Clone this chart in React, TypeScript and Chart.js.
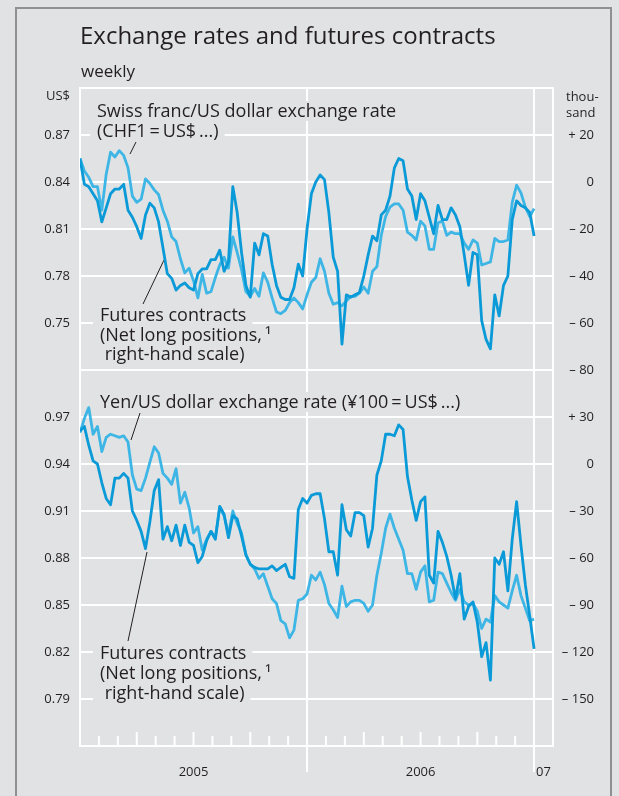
import React, { useEffect, useRef } from "react";
import { Chart, registerables } from "chart.js";

Chart.register(...registerables);

// Weekly observations, first week of Jan 2005 to first week of Jan 2007 (index = week number)
const chfRate = [
  0.855, 0.847, 0.843, 0.837, 0.837, 0.822, 0.845, 0.859, 0.856, 0.86, 0.857, 0.849, 0.831, 0.827, 0.829, 0.842,
  0.839, 0.835, 0.832, 0.822, 0.815, 0.805, 0.802, 0.791, 0.782, 0.785, 0.777, 0.766, 0.781, 0.769, 0.77, 0.779,
  0.787, 0.792, 0.785, 0.805, 0.795, 0.784, 0.77, 0.767, 0.772, 0.767, 0.782, 0.776, 0.766, 0.757, 0.756, 0.758,
  0.763, 0.766, 0.763, 0.759, 0.768, 0.776, 0.779, 0.791, 0.783, 0.769, 0.762, 0.763, 0.761, 0.764, 0.767, 0.767,
  0.769, 0.773, 0.769, 0.783, 0.786, 0.806, 0.818, 0.824, 0.826, 0.826, 0.822, 0.808, 0.806, 0.803, 0.815, 0.812,
  0.797, 0.797, 0.814, 0.815, 0.806, 0.808, 0.807, 0.807, 0.801, 0.797, 0.803, 0.801, 0.787, 0.788, 0.789, 0.804,
  0.802, 0.802, 0.803, 0.827, 0.838, 0.833, 0.824, 0.818, 0.823,
];
const chfFutures = [
  10, -1, -2, -5, -8, -17, -11, -5, -3, -3, -1, -12, -15, -19, -24, -14, -9, -11, -17, -28, -39, -41, -46, -44, -43,
  -45, -46, -39, -37, -37, -33, -33, -29, -38, -34, -2, -13, -30, -44, -49, -26, -31, -22, -23, -35, -44, -49, -50,
  -50, -45, -35, -40, -20, -5, 0, 3, 1, -13, -32, -38, -69, -48, -49, -48, -47, -40, -31, -23, -25, -14, -12, -6, 6,
  10, 9, -3, -6, -16, -5, -8, -15, -22, -10, -16, -16, -11, -14, -19, -31, -44, -30, -31, -59, -67, -71, -48, -57,
  -44, -40, -16, -8, -10, -11, -13, -23,
];
const yenRate = [
  0.96, 0.969, 0.976, 0.959, 0.964, 0.948, 0.957, 0.959, 0.958, 0.957, 0.958, 0.954, 0.933, 0.924, 0.923, 0.931,
  0.941, 0.951, 0.947, 0.934, 0.931, 0.927, 0.937, 0.915, 0.922, 0.912, 0.896, 0.9, 0.885, 0.892, 0.897, 0.893,
  0.912, 0.907, 0.895, 0.91, 0.902, 0.896, 0.882, 0.876, 0.873, 0.867, 0.87, 0.862, 0.854, 0.851, 0.84, 0.838,
  0.829, 0.834, 0.853, 0.854, 0.857, 0.869, 0.866, 0.871, 0.863, 0.851, 0.847, 0.842, 0.862, 0.849, 0.852, 0.853,
  0.853, 0.851, 0.846, 0.85, 0.869, 0.883, 0.899, 0.908, 0.899, 0.892, 0.885, 0.87, 0.87, 0.86, 0.871, 0.875,
  0.852, 0.853, 0.871, 0.87, 0.864, 0.858, 0.853, 0.86, 0.852, 0.85, 0.851, 0.846, 0.835, 0.841, 0.839, 0.856,
  0.852, 0.85, 0.848, 0.859, 0.869, 0.856, 0.848, 0.84, 0.841,
];
const yenFutures = [
  21, 24, 12, 2, 0, -12, -22, -26, -9, -9, -6, -9, -30, -36, -43, -54, -37, -17, -10, -48, -40, -49, -39, -52, -39,
  -50, -52, -63, -59, -49, -43, -48, -27, -32, -47, -33, -35, -46, -58, -64, -66, -67, -67, -67, -65, -68, -66, -64,
  -72, -73, -29, -22, -25, -20, -19, -19, -35, -56, -56, -71, -26, -42, -46, -31, -31, -33, -53, -41, -7, 2, 19, 19,
  18, 25, 22, -8, -23, -36, -24, -21, -71, -76, -43, -50, -59, -71, -86, -70, -99, -91, -88, -101, -123, -114, -138,
  -60, -64, -56, -81, -48, -24, -52, -77, -97, -118,
];

const chfRateTicks = [0.75, 0.78, 0.81, 0.84, 0.87];
const chfFutTicks = [-80, -60, -40, -20, 0, 20];
const yenRateTicks = [0.79, 0.82, 0.85, 0.88, 0.91, 0.94, 0.97];
const yenFutTicks = [-150, -120, -90, -60, -30, 0, 30];
const yearLabelWeeks = [26, 78, 106.17];
const yearLabels = ["2005", "2006", "07"];
const yearBoundaryWeeks = [52, 104];
const WEEKS_PER_MONTH = 52 / 12;

const BG = "#e1e2e4";
const TEXT = "#231f20";
const LIGHT = "#3db6e6";
const DARK = "#0a9ad7";
const FONT = "'Open Sans', 'Noto Sans', sans-serif";

const pts = (arr: number[]) => arr.map((v, i) => ({ x: i, y: v }));
const futLabel = (v: number) => (v > 0 ? "+ " + v : v < 0 ? "\u2013 " + -v : "0");

function drawBlock(ctx: CanvasRenderingContext2D, lines: string[], x: number, baseline: number, lh: number) {
  ctx.font = "18px " + FONT;
  ctx.fillStyle = BG;
  lines.forEach((t, k) => {
    const w = ctx.measureText(t).width;
    ctx.fillRect(x - 7, baseline + k * lh - 16, w + 13, lh);
  });
  ctx.fillStyle = TEXT;
  ctx.textAlign = "left";
  ctx.textBaseline = "alphabetic";
  lines.forEach((t, k) => ctx.fillText(t, x, baseline + k * lh));
}

function pointer(ctx: CanvasRenderingContext2D, x1: number, y1: number, x2: number, y2: number) {
  ctx.strokeStyle = TEXT;
  ctx.lineWidth = 1;
  ctx.beginPath();
  ctx.moveTo(x1, y1);
  ctx.lineTo(x2, y2);
  ctx.stroke();
}

const decor = {
  id: "decor",
  beforeDatasetsDraw(chart: any) {
    const { ctx, chartArea: a, scales } = chart;
    ctx.save();
    ctx.strokeStyle = "#ffffff";
    ctx.lineWidth = 2;
    ctx.strokeRect(a.left, a.top, a.right - a.left, a.bottom - a.top);
    const xs = scales.x;
    for (let m = 1; m < 25; m++) {
      if (m % 12 === 0) continue;
      const px = xs.getPixelForValue(m * WEEKS_PER_MONTH);
      const len = m % 3 === 0 ? 14 : 10;
      ctx.beginPath();
      ctx.moveTo(px, a.bottom);
      ctx.lineTo(px, a.bottom - len);
      ctx.stroke();
    }
    drawBlock(ctx, ["Swiss franc/US dollar exchange rate", "(CHF1\u2009=\u2009US$\u2009...)"], 97, 117, 20);
    pointer(ctx, 136, 142, 130, 154);
    drawBlock(ctx, ["Futures contracts", "(Net long positions,\u2009\u00b9", " right-hand scale)"], 100, 321, 19.5);
    pointer(ctx, 143, 304, 164, 260);
    drawBlock(ctx, ["Yen/US dollar exchange rate (\u00a5100\u2009=\u2009US$\u2009...)"], 100, 408, 20);
    pointer(ctx, 140, 413, 131, 440);
    drawBlock(ctx, ["Futures contracts", "(Net long positions,\u2009\u00b9", " right-hand scale)"], 100, 659, 20);
    pointer(ctx, 128, 641, 147, 552);
    ctx.restore();
  },
  afterDraw(chart: any) {
    const { ctx } = chart;
    ctx.save();
    ctx.fillStyle = TEXT;
    ctx.textBaseline = "alphabetic";
    ctx.textAlign = "left";
    ctx.font = "24px " + FONT;
    ctx.fillText("Exchange rates and futures contracts", 80, 44);
    ctx.font = "17px " + FONT;
    ctx.fillText("weekly", 81, 77);
    ctx.font = "13px " + FONT;
    ctx.textAlign = "right";
    ctx.fillText("US$", 70, 100);
    ctx.textAlign = "left";
    ctx.fillText("thou-", 566, 101);
    ctx.fillText("sand", 566, 117);
    ctx.restore();
  },
};

const tickFont = { family: FONT, size: 13 };

export default function App() {
  const ref = useRef<HTMLCanvasElement>(null);
  useEffect(() => {
    if (!ref.current) return;
    const chart = new Chart(ref.current, {
      type: "line",
      data: {
        datasets: [
          { data: pts(chfFutures), yAxisID: "yTR", borderColor: DARK, order: 1 },
          { data: pts(chfRate), yAxisID: "yTL", borderColor: LIGHT, order: 2 },
          { data: pts(yenFutures), yAxisID: "yBR", borderColor: DARK, order: 1 },
          { data: pts(yenRate), yAxisID: "yBL", borderColor: LIGHT, order: 2 },
        ],
      },
      options: {
        responsive: false,
        animation: false,
        devicePixelRatio: 1,
        layout: { padding: { left: 0, right: 25, top: 88, bottom: 0 } },
        elements: {
          line: { borderWidth: 2.8, tension: 0, fill: false, borderJoinStyle: "round" },
          point: { radius: 0 },
        },
        plugins: { legend: { display: false }, tooltip: { enabled: false }, title: { display: false } },
        scales: {
          x: {
            type: "linear",
            position: "bottom",
            min: 0,
            max: 104 + WEEKS_PER_MONTH,
            afterBuildTicks: (s: any) => {
              const vals = [0, ...yearBoundaryWeeks, ...yearLabelWeeks, 104 + WEEKS_PER_MONTH].sort((p, q) => p - q);
              s.ticks = vals.map((v) => ({ value: v }));
            },
            afterFit: (s: any) => {
              s.height = 50;
            },
            grid: {
              color: (c: any) =>
                c.tick && yearBoundaryWeeks.includes(c.tick.value) ? "#ffffff" : "rgba(0,0,0,0)",
              lineWidth: 2,
              tickLength: 26,
            },
            border: { display: true, color: "#ffffff", width: 2 },
            ticks: {
              autoSkip: false,
              maxRotation: 0,
              padding: -8,
              color: TEXT,
              font: tickFont,
              callback: (v: any) => {
                const k = yearLabelWeeks.indexOf(Number(v));
                return k >= 0 ? yearLabels[k] : "";
              },
            },
          },
          yBL: {
            type: "linear",
            position: "left",
            stack: "left",
            stackWeight: 8,
            min: 0.76,
            max: 1.0,
            afterBuildTicks: (s: any) => {
              s.ticks = yenRateTicks.map((v) => ({ value: v }));
            },
            afterFit: (s: any) => {
              s.width = 80;
            },
            grid: { display: false, drawTicks: false },
            border: { display: false },
            ticks: { padding: 10, color: TEXT, font: tickFont, callback: (v: any) => Number(v).toFixed(2) },
          },
          yTL: {
            type: "linear",
            position: "left",
            stack: "left",
            stackWeight: 6,
            min: 0.72,
            max: 0.9,
            afterBuildTicks: (s: any) => {
              s.ticks = chfRateTicks.map((v) => ({ value: v }));
            },
            afterFit: (s: any) => {
              s.width = 80;
            },
            grid: { display: false, drawTicks: false },
            border: { display: false },
            ticks: { padding: 10, color: TEXT, font: tickFont, callback: (v: any) => Number(v).toFixed(2) },
          },
          yTR: {
            type: "linear",
            position: "right",
            stack: "right",
            stackWeight: 6,
            min: -80,
            max: 40,
            afterBuildTicks: (s: any) => {
              s.ticks = chfFutTicks.map((v) => ({ value: v }));
            },
            afterFit: (s: any) => {
              s.width = 41;
            },
            grid: { color: "#ffffff", lineWidth: 2, drawTicks: false },
            border: { display: false },
            ticks: { crossAlign: "far", color: TEXT, font: tickFont, callback: (v: any) => futLabel(Number(v)) },
          },
          yBR: {
            type: "linear",
            position: "right",
            stack: "right",
            stackWeight: 8,
            min: -180,
            max: 60,
            afterBuildTicks: (s: any) => {
              s.ticks = yenFutTicks.map((v) => ({ value: v }));
            },
            afterFit: (s: any) => {
              s.width = 41;
            },
            grid: { color: "#ffffff", lineWidth: 2, drawTicks: false },
            border: { display: false },
            ticks: { crossAlign: "far", color: TEXT, font: tickFont, callback: (v: any) => futLabel(Number(v)) },
          },
        },
      } as any,
      plugins: [decor],
    });
    return () => chart.destroy();
  }, []);

  return (
    <div style={{ position: "fixed", left: 0, top: 0, width: 619, height: 796, background: BG, overflow: "hidden" }}>
      <div
        style={{
          position: "absolute",
          left: 15,
          top: 7,
          width: 593,
          height: 800,
          borderLeft: "2px solid #8f9092",
          borderTop: "2px solid #8f9092",
          borderRight: "2px solid #8f9092",
        }}
      />
      <canvas ref={ref} width={619} height={796} style={{ position: "absolute", left: 0, top: 0 }} />
    </div>
  );
}
